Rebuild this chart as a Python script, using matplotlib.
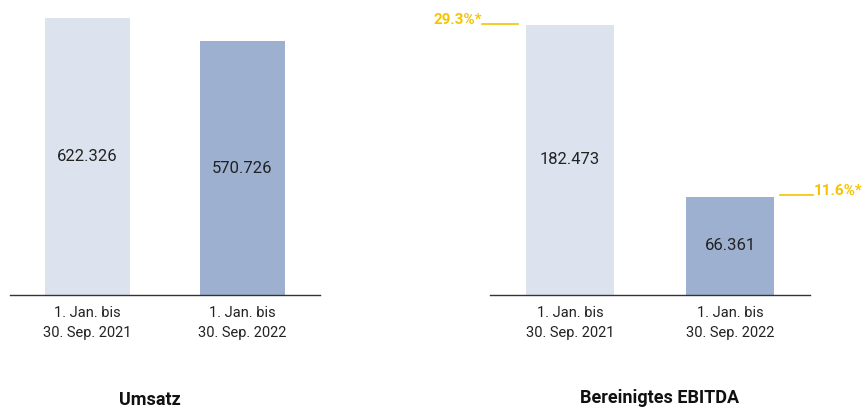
import matplotlib
matplotlib.use('Agg')
import matplotlib.pyplot as plt

plt.rcParams['font.family'] = ['Roboto', 'DejaVu Sans']

perioden = ['1. Jan. bis\n30. Sep. 2021', '1. Jan. bis\n30. Sep. 2022']
umsatz = [622.326, 570.726]
ebitda = [182.473, 66.361]
marge = ['29.3%*', '11.6%*']
titel = ['Umsatz', 'Bereinigtes EBITDA']

farben = ['#DDE3EE', '#9DB0CF']
gelb = '#F5C400'
txt = '#222222'
breite = 0.55

fig = plt.figure(figsize=(8.67, 4.11), dpi=100)
ax1 = fig.add_axes([10/867, 116/411, 310/867, 295/411])
ax2 = fig.add_axes([490/867, 116/411, 320/867, 295/411])


def zeichne(ax, werte, ymax):
    x = range(len(werte))
    ax.bar(x, werte, width=breite, color=farben)
    for i, w in enumerate(werte):
        ax.text(i, w/2, f'{w:.3f}', ha='center', va='center', fontsize=12, color=txt)
    ax.set_xlim(-0.5, 1.5)
    ax.set_ylim(0, ymax)
    ax.set_xticks(list(x))
    ax.set_xticklabels(perioden, fontsize=10.5, color=txt, linespacing=1.5)
    ax.tick_params(axis='x', length=0, pad=8)
    ax.set_yticks([])
    for s in ['top', 'left', 'right']:
        ax.spines[s].set_visible(False)
    ax.spines['bottom'].set_color('#333333')
    ax.spines['bottom'].set_linewidth(1)


zeichne(ax1, umsatz, 663)
zeichne(ax2, ebitda, 199.3)

# Margen-Markierungen
links = 0 - breite/2
ax2.plot([links - 0.275, links - 0.05], [ebitda[0] + 0.5, ebitda[0] + 0.5],
         color=gelb, lw=1.2, clip_on=False)
ax2.text(links - 0.275, ebitda[0] + 0.5, marge[0], ha='right', va='baseline',
         fontsize=11, fontweight='bold', color=gelb)
rechts = 1 + breite/2
ax2.plot([rechts + 0.035, rechts + 0.245], [ebitda[1] + 1.2, ebitda[1] + 1.2],
         color=gelb, lw=1.2, clip_on=False)
ax2.text(rechts + 0.245, ebitda[1] + 1.2, marge[1], ha='left', va='baseline',
         fontsize=11, fontweight='bold', color=gelb)

fig.text(150/867, 1 - 400/411, titel[0], ha='center', va='center',
         fontsize=13, fontweight='bold', color='#111111')
fig.text(660/867, 1 - 398/411, titel[1], ha='center', va='center',
         fontsize=13, fontweight='bold', color='#111111')

fig.savefig('out.png', dpi=100)
